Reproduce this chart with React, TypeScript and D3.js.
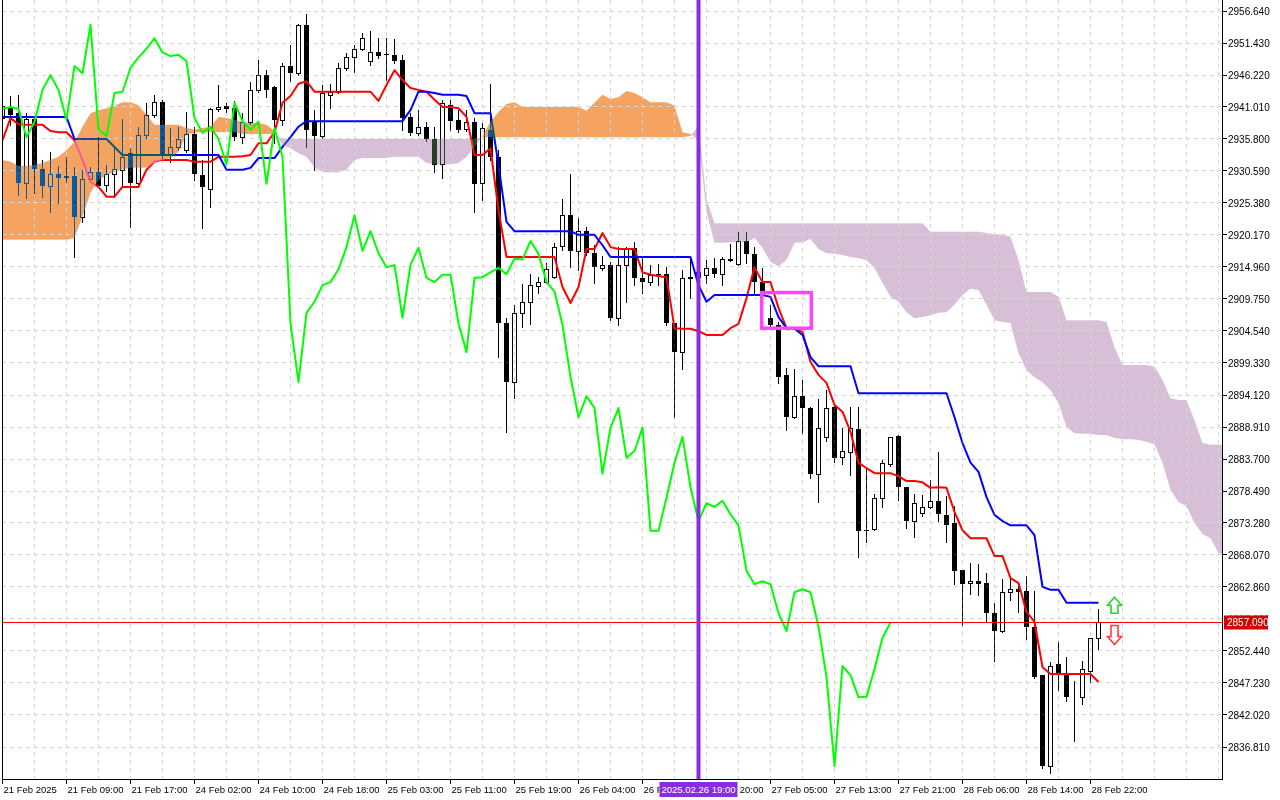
import * as d3 from "d3";

// XAUUSD H1, 21 Feb 01:00 .. 28 Feb 23:00 (138 bars)
const OPEN = [
  2939.2, 2941.0, 2940.0, 2928.6, 2939.1, 2930.9, 2928.1, 2930.1, 2929.6, 2929.8,
  2923.1, 2929.3, 2930.4, 2928.3, 2930.1, 2930.8, 2933.5, 2928.6, 2936.5, 2939.7,
  2941.8, 2933.2, 2934.5, 2934.0, 2936.6, 2929.9, 2927.7, 2940.7, 2941.2, 2940.8,
  2936.1, 2938.6, 2943.8, 2946.2, 2944.3, 2938.9, 2947.7, 2946.5, 2954.4, 2938.7,
  2936.3, 2943.0, 2943.5, 2947.4, 2949.1, 2950.5, 2948.5, 2949.9, 2949.6, 2949.5,
  2948.7, 2939.4, 2936.8, 2937.8, 2935.8, 2931.7, 2941.3, 2938.9, 2937.4, 2938.6,
  2928.6, 2937.3, 2932.9, 2905.8, 2896.2, 2907.5, 2909.3, 2911.9, 2912.5, 2913.3,
  2918.4, 2923.4, 2917.6, 2920.8, 2917.2, 2914.8, 2915.3, 2906.7, 2915.3, 2918.1,
  2913.2, 2912.5, 2913.8, 2913.8, 2905.8, 2901.1, 2913.2, 2913.3, 2913.7, 2914.8,
  2913.8, 2916.1, 2915.4, 2919.2, 2917.1, 2912.5, 2906.7, 2905.5, 2897.4, 2890.5,
  2893.9, 2892.0, 2881.3, 2887.3, 2892.2, 2884.0, 2884.8, 2888.6, 2872.1, 2872.3,
  2877.4, 2882.9, 2887.4, 2879.1, 2873.6, 2874.9, 2875.9, 2876.9, 2874.6, 2873.3,
  2865.6, 2863.5, 2863.8, 2863.5, 2858.6, 2855.7, 2862.0, 2862.5, 2862.2, 2856.4,
  2848.5, 2833.7, 2850.3, 2848.6, 2844.9, 2844.9, 2849.2, 2854.6,
];
const HIGH = [
  2942.2, 2942.8, 2943.0, 2940.0, 2939.2, 2932.4, 2933.7, 2931.4, 2932.9, 2931.3,
  2930.8, 2931.3, 2936.1, 2931.6, 2934.5, 2939.1, 2934.3, 2937.8, 2941.7, 2943.0,
  2942.2, 2937.6, 2937.8, 2940.2, 2937.8, 2932.4, 2940.9, 2944.6, 2941.7, 2942.0,
  2940.0, 2945.1, 2948.7, 2947.0, 2944.4, 2948.2, 2951.1, 2954.5, 2956.1, 2940.5,
  2944.6, 2944.8, 2948.2, 2949.8, 2951.1, 2953.1, 2953.4, 2952.2, 2952.2, 2952.1,
  2949.5, 2940.0, 2940.5, 2938.6, 2937.8, 2942.2, 2942.2, 2940.5, 2940.5, 2939.2,
  2938.4, 2944.8, 2934.0, 2906.6, 2908.8, 2912.2, 2913.8, 2913.3, 2915.6, 2918.9,
  2926.0, 2930.1, 2922.9, 2921.5, 2918.5, 2916.8, 2915.8, 2918.2, 2918.2, 2919.0,
  2916.6, 2915.3, 2915.5, 2915.0, 2905.8, 2914.5, 2916.6, 2915.8, 2916.1, 2916.4,
  2916.6, 2918.7, 2920.6, 2920.6, 2918.2, 2914.8, 2908.8, 2906.0, 2898.5, 2898.4,
  2896.6, 2892.2, 2893.5, 2894.9, 2892.8, 2888.8, 2892.2, 2892.2, 2882.2, 2878.0,
  2883.5, 2887.3, 2887.6, 2879.1, 2878.0, 2877.8, 2880.3, 2884.8, 2877.7, 2876.0,
  2865.6, 2866.8, 2866.6, 2865.2, 2860.3, 2864.2, 2864.2, 2863.5, 2864.6, 2862.2,
  2848.5, 2850.6, 2853.9, 2851.4, 2847.6, 2850.8, 2854.6, 2859.3,
];
const LOW = [
  2937.6, 2938.1, 2926.7, 2926.2, 2927.0, 2926.4, 2923.9, 2925.4, 2928.8, 2916.6,
  2922.3, 2928.8, 2928.0, 2927.3, 2926.4, 2928.0, 2921.5, 2928.3, 2936.0, 2939.4,
  2932.4, 2932.1, 2934.0, 2933.7, 2929.1, 2921.3, 2924.7, 2940.4, 2940.2, 2935.6,
  2935.1, 2938.2, 2943.5, 2942.6, 2935.1, 2938.1, 2945.2, 2946.2, 2934.5, 2930.8,
  2936.0, 2940.8, 2943.3, 2947.0, 2946.7, 2950.3, 2947.8, 2949.0, 2945.4, 2948.2,
  2937.3, 2936.5, 2936.5, 2935.5, 2930.4, 2929.4, 2937.3, 2936.9, 2937.1, 2923.9,
  2925.9, 2932.4, 2900.3, 2888.1, 2893.6, 2905.2, 2905.7, 2910.7, 2912.4, 2913.2,
  2917.7, 2914.9, 2914.5, 2916.9, 2912.4, 2914.5, 2906.3, 2905.5, 2909.3, 2912.0,
  2910.7, 2912.0, 2912.0, 2905.5, 2890.5, 2898.3, 2909.9, 2911.2, 2912.4, 2913.3,
  2912.0, 2915.9, 2915.3, 2915.6, 2910.7, 2908.8, 2905.2, 2896.1, 2888.4, 2890.4,
  2887.9, 2880.6, 2876.7, 2886.6, 2883.2, 2882.9, 2881.1, 2867.8, 2870.2, 2872.1,
  2875.9, 2882.6, 2877.0, 2872.5, 2871.0, 2874.4, 2875.7, 2873.6, 2870.2, 2863.3,
  2856.7, 2861.7, 2861.6, 2857.3, 2850.8, 2855.5, 2860.7, 2858.8, 2854.4, 2848.0,
  2833.4, 2832.6, 2846.1, 2844.3, 2837.8, 2843.8, 2847.4, 2852.8,
];
const CLOSE = [
  2941.2, 2939.7, 2928.6, 2939.1, 2930.9, 2928.1, 2930.1, 2929.5, 2929.8, 2923.1,
  2929.3, 2930.4, 2928.1, 2930.1, 2930.9, 2932.9, 2928.6, 2936.5, 2939.7, 2941.8,
  2933.2, 2934.5, 2935.8, 2936.6, 2930.1, 2928.0, 2940.7, 2941.0, 2940.7, 2936.1,
  2938.6, 2943.8, 2946.2, 2943.8, 2938.9, 2947.7, 2946.5, 2954.4, 2937.3, 2936.3,
  2943.3, 2943.5, 2947.4, 2949.1, 2950.5, 2952.2, 2949.9, 2949.3, 2949.5, 2948.5,
  2939.2, 2936.8, 2937.8, 2935.8, 2931.6, 2941.7, 2938.7, 2937.3, 2938.6, 2928.5,
  2937.6, 2932.9, 2905.8, 2896.2, 2907.5, 2909.3, 2912.0, 2912.5, 2914.6, 2918.2,
  2923.4, 2917.6, 2920.8, 2917.2, 2914.9, 2915.3, 2906.7, 2915.3, 2918.1, 2913.2,
  2912.5, 2913.7, 2913.7, 2905.8, 2901.1, 2913.2, 2913.3, 2914.1, 2914.8, 2913.8,
  2916.3, 2916.2, 2919.2, 2917.1, 2912.5, 2911.0, 2905.5, 2897.1, 2890.5, 2893.9,
  2892.0, 2881.3, 2888.8, 2892.0, 2883.9, 2885.0, 2888.8, 2872.0, 2872.0, 2877.4,
  2883.1, 2887.3, 2879.1, 2873.6, 2876.5, 2875.9, 2876.9, 2874.7, 2872.9, 2865.5,
  2863.3, 2863.8, 2863.3, 2858.6, 2855.7, 2862.0, 2862.5, 2862.0, 2856.4, 2848.2,
  2833.7, 2850.0, 2848.5, 2844.9, 2845.0, 2849.5, 2854.6, 2857.09,
];

// Ichimoku 9/26/52
const TENKAN = [
  2935.6, 2939.2, 2938.2, 2938.1, 2938.1, 2938.1, 2937.1, 2936.9, 2936.9, 2935.6,
  2932.4, 2928.8, 2928.0, 2926.4, 2926.4, 2928.0, 2928.0, 2928.0, 2930.8, 2932.1,
  2932.4, 2932.4, 2932.4, 2932.4, 2932.1, 2932.1, 2932.1, 2932.9, 2932.9, 2932.9,
  2933.0, 2933.2, 2935.1, 2935.1, 2936.9, 2941.7, 2942.8, 2944.8, 2945.2, 2943.5,
  2943.5, 2943.5, 2943.5, 2943.5, 2943.5, 2943.5, 2943.5, 2942.0, 2944.6, 2947.0,
  2945.4, 2944.1, 2943.8, 2943.5, 2942.2, 2941.0, 2941.0, 2940.8, 2939.4, 2933.2,
  2933.2, 2934.3, 2924.2, 2916.6, 2916.6, 2916.6, 2916.6, 2916.6, 2916.6, 2916.6,
  2911.7, 2909.1, 2911.7, 2917.9, 2917.9, 2920.5, 2918.2, 2917.9, 2917.9, 2917.9,
  2914.1, 2913.7, 2913.5, 2913.3, 2905.0, 2904.9, 2904.9, 2904.5, 2903.9, 2903.9,
  2903.9, 2905.0, 2905.7, 2909.9, 2914.9, 2912.5, 2912.5, 2908.3, 2905.0, 2904.9,
  2904.4, 2899.5, 2897.4, 2896.1, 2892.5, 2891.4, 2888.1, 2883.1, 2882.2, 2881.4,
  2881.4, 2881.4, 2880.9, 2880.1, 2880.1, 2879.9, 2879.0, 2879.1, 2879.0, 2875.1,
  2872.1, 2870.8, 2870.8, 2870.8, 2867.9, 2867.9, 2864.3, 2863.5, 2858.8, 2857.2,
  2849.8, 2848.7, 2848.7, 2848.7, 2848.7, 2848.7, 2848.7, 2847.4,
];
const KIJUN = [
  2939.4, 2939.4, 2939.4, 2939.4, 2939.4, 2939.4, 2939.4, 2939.4, 2939.4, 2935.8,
  2935.8, 2935.8, 2935.8, 2935.8, 2934.5, 2933.2, 2933.2, 2933.2, 2933.2, 2933.2,
  2933.2, 2933.2, 2933.2, 2933.2, 2933.2, 2933.2, 2933.2, 2933.2, 2930.8, 2930.8,
  2930.8, 2931.1, 2932.7, 2932.7, 2932.7, 2934.5, 2936.1, 2937.8, 2938.7, 2938.7,
  2938.7, 2938.7, 2938.7, 2938.7, 2938.7, 2938.7, 2938.7, 2938.7, 2938.7, 2938.7,
  2938.7, 2940.5, 2943.5, 2943.5, 2943.3, 2943.0, 2943.0, 2943.0, 2942.8, 2940.0,
  2940.0, 2940.0, 2931.6, 2922.3, 2920.8, 2920.8, 2920.8, 2920.8, 2920.8, 2920.8,
  2920.8, 2920.8, 2920.2, 2920.2, 2920.2, 2918.5, 2916.6, 2916.6, 2916.6, 2916.6,
  2916.6, 2916.6, 2916.6, 2916.6, 2916.6, 2916.6, 2916.6, 2912.0, 2909.3, 2910.4,
  2910.4, 2910.4, 2910.4, 2910.4, 2910.4, 2910.4, 2910.1, 2906.8, 2905.0, 2904.9,
  2903.9, 2900.3, 2898.8, 2898.8, 2898.8, 2898.8, 2898.8, 2894.4, 2894.4, 2894.4,
  2894.4, 2894.4, 2894.4, 2894.4, 2894.4, 2894.4, 2894.4, 2894.4, 2894.4, 2890.5,
  2886.3, 2883.1, 2881.6, 2877.5, 2874.6, 2873.6, 2872.9, 2872.9, 2872.9, 2871.3,
  2862.9, 2862.4, 2862.4, 2860.3, 2860.3, 2860.3, 2860.3, 2860.3,
];
// already shifted 26 bars forward, so index 0 sits on the first candle
const SENKOU_A = [
  2932.4, 2932.1, 2931.4, 2931.4, 2931.6, 2931.9, 2932.4, 2932.9, 2934.0, 2935.3,
  2937.8, 2940.0, 2940.5, 2940.8, 2941.2, 2941.8, 2941.8, 2941.3, 2939.7, 2938.1,
  2938.1, 2938.1, 2938.1, 2937.6, 2937.3, 2937.6, 2937.8, 2939.4, 2939.2, 2938.9,
  2938.6, 2938.4, 2938.4, 2938.1, 2937.1, 2934.8, 2934.3, 2933.5, 2932.9, 2931.2,
  2930.4, 2930.4, 2930.4, 2930.8, 2932.4, 2932.7, 2932.7, 2932.7, 2932.7, 2932.9,
  2932.9, 2932.9, 2932.9, 2931.9, 2931.7, 2931.7, 2931.7, 2931.9, 2932.9, 2934.5,
  2936.3, 2938.6, 2940.2, 2941.5, 2941.8, 2941.0, 2941.0, 2941.0, 2941.0, 2941.0,
  2941.0, 2941.0, 2941.0, 2940.4, 2941.7, 2943.0, 2942.3, 2942.6, 2943.6, 2943.3,
  2942.6, 2941.8, 2941.8, 2941.8, 2941.2, 2936.9, 2936.6, 2935.6, 2923.9, 2918.9,
  2918.9, 2919.0, 2919.0, 2919.0, 2919.7, 2918.1, 2915.8, 2915.1, 2916.1, 2918.9,
  2919.0, 2919.5, 2917.9, 2917.2, 2917.1, 2916.9, 2916.6, 2916.4, 2916.1, 2914.8,
  2912.4, 2910.1, 2909.3, 2907.6, 2906.6, 2906.8, 2907.1, 2907.5, 2907.6, 2908.8,
  2910.4, 2911.4, 2911.2, 2908.8, 2906.3, 2906.0, 2905.8, 2900.9, 2898.2, 2897.0,
  2896.2, 2894.9, 2892.8, 2888.9, 2887.9, 2887.8, 2887.8, 2887.6, 2887.6, 2887.1,
  2886.9, 2886.9, 2886.8, 2886.5, 2886.1, 2883.1, 2878.7, 2876.7, 2876.0, 2873.3,
  2871.5, 2870.8, 2868.4, 2868.1,
];
const SENKOU_B = [
  2919.4, 2919.4, 2919.4, 2919.4, 2919.4, 2919.4, 2919.4, 2919.4, 2919.4, 2919.7,
  2923.1, 2927.0, 2929.1, 2929.9, 2930.4, 2930.8, 2931.1, 2931.1, 2931.1, 2931.9,
  2932.4, 2932.7, 2933.7, 2936.5, 2936.8, 2936.9, 2936.9, 2936.9, 2936.9, 2936.9,
  2936.6, 2936.6, 2936.6, 2936.6, 2936.6, 2935.8, 2935.8, 2935.8, 2935.8, 2935.8,
  2935.8, 2935.8, 2935.8, 2935.8, 2935.8, 2935.8, 2935.8, 2935.8, 2935.8, 2935.8,
  2935.8, 2935.8, 2935.8, 2935.8, 2935.8, 2935.8, 2935.8, 2935.8, 2935.8, 2935.8,
  2936.1, 2936.1, 2936.1, 2936.1, 2936.1, 2936.1, 2936.1, 2936.1, 2936.1, 2936.1,
  2936.1, 2936.1, 2936.1, 2936.1, 2936.1, 2936.1, 2936.1, 2936.1, 2936.1, 2936.1,
  2936.1, 2936.1, 2936.1, 2936.1, 2936.1, 2936.1, 2936.3, 2937.9, 2925.9, 2922.1,
  2922.1, 2922.1, 2922.1, 2922.1, 2922.1, 2922.1, 2922.1, 2922.1, 2922.1, 2922.1,
  2922.1, 2922.1, 2922.1, 2922.1, 2922.1, 2922.1, 2922.1, 2922.1, 2922.1, 2922.1,
  2922.1, 2922.1, 2922.1, 2922.1, 2922.1, 2922.1, 2920.7, 2920.7, 2920.7, 2920.7,
  2920.7, 2920.7, 2920.7, 2920.5, 2920.3, 2920.2, 2919.9, 2916.1, 2910.9, 2910.9,
  2910.9, 2910.9, 2910.1, 2906.3, 2906.3, 2906.3, 2906.3, 2906.3, 2906.0, 2901.9,
  2899.0, 2899.0, 2899.0, 2899.0, 2898.7, 2896.6, 2893.6, 2893.3, 2893.3, 2890.0,
  2886.3, 2886.0, 2886.0, 2886.0,
];
const CHIKOU_SHIFT = 26;

const TIME_TICKS = [0, 8, 16, 24, 32, 40, 48, 56, 64, 72, 80, 88, 96, 104, 112, 120, 128, 136];
const TIME_LABELS = [
  "21 Feb 2025", "21 Feb 09:00", "21 Feb 17:00", "24 Feb 02:00", "24 Feb 10:00", "24 Feb 18:00",
  "25 Feb 03:00", "25 Feb 11:00", "25 Feb 19:00", "26 Feb 04:00", "26 Feb 12:00", "26 Feb 20:00",
  "27 Feb 05:00", "27 Feb 13:00", "27 Feb 21:00", "28 Feb 06:00", "28 Feb 14:00", "28 Feb 22:00",
];
const PRICE_TICKS = [
  2956.64, 2951.43, 2946.22, 2941.01, 2935.8, 2930.59, 2925.38, 2920.17, 2914.96, 2909.75,
  2904.54, 2899.33, 2894.12, 2888.91, 2883.7, 2878.49, 2873.28, 2868.07, 2862.86, 2857.65,
  2852.44, 2847.23, 2842.02, 2836.81,
];
const BID = 2857.09;
const VLINE_BAR = 87;
const VLINE_LABEL = "2025.02.26 19:00";
const BOX_BARS = [94.9, 101.1];
const BOX_PRICES = [2910.8, 2905.0];
const ARROW_BAR = 139;
const ARROW_UP_PRICE = 2861.2;
const ARROW_DOWN_PRICE = 2856.6;

const FONT = "'Liberation Sans', Arial, sans-serif";

export default function App() {
  const width = 1280;
  const height = 800;
  const plotL = 2;
  const plotR = 1222;
  const plotB = 779;

  const x = d3.scaleLinear().domain([0, CLOSE.length - 1]).range([2.5, 1098.5]);
  const y = d3.scaleLinear().domain([2836.81, 2956.64]).range([747, 11]);
  const crisp = (v: number) => Math.floor(v) + 0.5;

  const cloudIdx = d3.range(SENKOU_A.length);
  const cloudPath =
    d3.area<number>().x((i) => x(i)).y0((i) => y(SENKOU_A[i])).y1((i) => y(SENKOU_B[i]))(cloudIdx) ?? "";
  const aboveB = d3.area<number>().x((i) => x(i)).y0(0).y1((i) => y(SENKOU_B[i]))(cloudIdx) ?? "";
  const belowB = d3.area<number>().x((i) => x(i)).y0((i) => y(SENKOU_B[i])).y1(plotB)(cloudIdx) ?? "";

  const line = d3.line<number>().x((_, i) => x(i)).y((v) => y(v));
  const chikou = CLOSE.slice(CHIKOU_SHIFT);

  const gridX = d3.range(4, SENKOU_A.length, 4).map((i) => x(i)).filter((v) => v < plotR);

  const ax = x(ARROW_BAR);
  const upTop = y(ARROW_UP_PRICE);
  const downTop = y(ARROW_DOWN_PRICE);
  const upArrow = `M${ax},${upTop} L${ax + 7},${upTop + 8} L${ax + 3.5},${upTop + 8} L${ax + 3.5},${upTop + 16} L${ax - 3.5},${upTop + 16} L${ax - 3.5},${upTop + 8} L${ax - 7},${upTop + 8} Z`;
  const downArrow = `M${ax - 3.5},${downTop} L${ax + 3.5},${downTop} L${ax + 3.5},${downTop + 11} L${ax + 7},${downTop + 11} L${ax},${downTop + 19} L${ax - 7},${downTop + 11} L${ax - 3.5},${downTop + 11} Z`;

  const vx = x(VLINE_BAR);
  const bidY = crisp(y(BID));
  const tagL = vx - 39;
  const tagR = vx + 39;

  return (
    <svg
      width={width}
      height={height}
      style={{ position: "absolute", left: 0, top: 0, display: "block" }}
      fontFamily={FONT}
    >
      <defs>
        <clipPath id="plot">
          <rect x={plotL} y={0} width={plotR - plotL} height={plotB} />
        </clipPath>
        <clipPath id="kumoUp">
          <path d={aboveB} />
        </clipPath>
        <clipPath id="kumoDown">
          <path d={belowB} />
        </clipPath>
        {/* parts of the axis labels that sit under the line/bid tags */}
        <clipPath id="timeAxis">
          <rect x={0} y={plotB + 1} width={tagL} height={height - plotB} />
          <rect x={tagR} y={plotB + 1} width={width - tagR} height={height - plotB} />
        </clipPath>
        <clipPath id="priceAxis">
          <rect x={plotR + 1} y={0} width={width - plotR} height={bidY - 7} />
          <rect x={plotR + 1} y={bidY + 7} width={width - plotR} height={height - bidY} />
        </clipPath>
      </defs>
      <rect width={width} height={height} fill="#ffffff" />

      {/* cloud */}
      <g clipPath="url(#plot)">
        <path d={cloudPath} fill="#F4A460" clipPath="url(#kumoUp)" />
        <path d={cloudPath} fill="#D8BFD8" clipPath="url(#kumoDown)" />
      </g>

      {/* grid */}
      <g stroke="#d6d6d6" strokeDasharray="4 4" strokeWidth={1}>
        {PRICE_TICKS.map((p) => (
          <line key={p} x1={plotL} x2={plotR} y1={crisp(y(p))} y2={crisp(y(p))} />
        ))}
        {gridX.map((gx) => (
          <line key={gx} x1={gx} x2={gx} y1={0} y2={plotB} />
        ))}
      </g>

      {/* candles + tenkan/kijun, painted in inverted colours over a difference blend */}
      <g clipPath="url(#plot)" style={{ mixBlendMode: "difference" }}>
        {CLOSE.map((c, i) => {
          const o = OPEN[i];
          const cx = x(i);
          const yo = Math.round(y(o));
          const yc = Math.round(y(c));
          const yh = Math.round(y(HIGH[i]));
          const yl = Math.round(y(LOW[i]));
          return (
            <g key={i}>
              <line x1={cx} x2={cx} y1={yh} y2={yl + 1} stroke="#ffffff" />
              {c >= o ? (
                <rect x={cx - 2} y={yc + 0.5} width={4} height={Math.max(yo - yc, 0)} fill="#000000" stroke="#ffffff" />
              ) : (
                <rect x={cx - 2.5} y={yo} width={5} height={Math.max(yc - yo, 1)} fill="#ffffff" />
              )}
            </g>
          );
        })}
        <path d={line(TENKAN) ?? ""} fill="none" stroke="#00ffff" strokeWidth={2} strokeLinejoin="round" />
        <path d={line(KIJUN) ?? ""} fill="none" stroke="#ffff00" strokeWidth={2} strokeLinejoin="round" />
      </g>

      <g clipPath="url(#plot)">
        <path d={line(chikou) ?? ""} fill="none" stroke="#00ff00" strokeWidth={2} strokeLinejoin="round" />
        <line x1={plotL} x2={plotR} y1={bidY} y2={bidY} stroke="#ff0000" strokeWidth={1} />
        <rect
          x={x(BOX_BARS[0])}
          y={y(BOX_PRICES[0])}
          width={x(BOX_BARS[1]) - x(BOX_BARS[0])}
          height={y(BOX_PRICES[1]) - y(BOX_PRICES[0])}
          fill="none"
          stroke="#ff44ff"
          strokeWidth={3.5}
        />
        <rect x={vx - 2} y={0} width={4} height={plotB} fill="#8a2be2" />
        <path d={upArrow} fill="#ffffff" stroke="#33cc33" strokeWidth={1.6} strokeLinejoin="miter" />
        <path d={downArrow} fill="#ffffff" stroke="#ff3b3b" strokeWidth={1.6} strokeLinejoin="miter" />
      </g>

      {/* frame */}
      <g stroke="#000000" strokeWidth={1}>
        <line x1={plotL + 0.5} x2={plotL + 0.5} y1={0} y2={plotB + 0.5} />
        <line x1={plotR + 0.5} x2={plotR + 0.5} y1={0} y2={plotB + 0.5} />
        <line x1={plotL} x2={plotR + 1} y1={plotB + 0.5} y2={plotB + 0.5} />
      </g>

      {/* price axis */}
      <g fontSize={10} fill="#000000" clipPath="url(#priceAxis)">
        {PRICE_TICKS.map((p) => (
          <g key={p}>
            <line x1={plotR + 1} x2={plotR + 5} y1={crisp(y(p))} y2={crisp(y(p))} stroke="#000000" />
            <text x={plotR + 6} y={y(p)} dy="0.35em">
              {p.toFixed(3)}
            </text>
          </g>
        ))}
      </g>
      <rect x={plotR + 2} y={bidY - 7} width={44} height={14} fill="#d40000" />
      <text x={plotR + 5} y={bidY} dy="0.35em" fontSize={10} fill="#ffffff">
        {BID.toFixed(3)}
      </text>

      {/* time axis */}
      <g fontSize={9.5} fill="#000000" clipPath="url(#timeAxis)">
        {TIME_TICKS.map((b, k) => (
          <g key={b}>
            <line x1={x(b)} x2={x(b)} y1={plotB + 1} y2={plotB + 5} stroke="#000000" />
            <text x={x(b) + 1} y={793}>
              {TIME_LABELS[k]}
            </text>
          </g>
        ))}
      </g>
      <rect x={tagL} y={782} width={tagR - tagL} height={15} fill="#8a2be2" />
      <text x={vx} y={793} textAnchor="middle" fontSize={9.5} fill="#ffffff">
        {VLINE_LABEL}
      </text>
    </svg>
  );
}
